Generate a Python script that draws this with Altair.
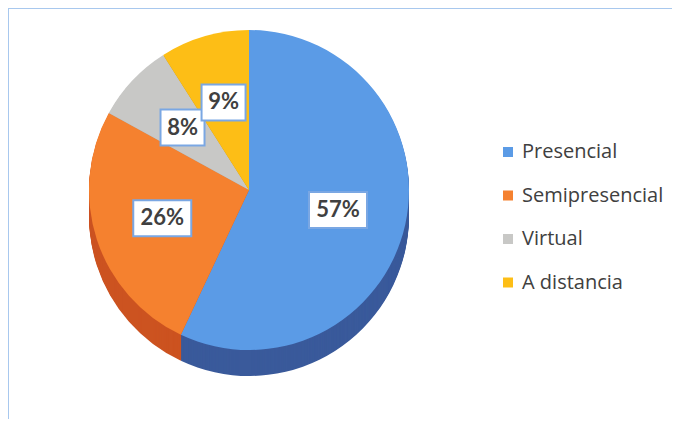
import altair as alt
import pandas as pd

categories = ["Presencial", "Semipresencial", "Virtual", "A distancia"]
values = [57, 26, 8, 9]
labels = ["57%", "26%", "8%", "9%"]
top_colors = ["#5B9BE6", "#F5812F", "#C8C8C6", "#FDBE16"]
side_colors = ["#3A5A9B", "#CC5320", "#9B9B9B", "#C99300"]

df = pd.DataFrame({
    "category": categories,
    "value": values,
    "label": labels,
    "ord": list(range(len(categories))),
    "side": side_colors,
})

W, H = 664, 411
CX, CY = 241, 182
R = 160
DEPTH = 26
LR = 0.57 * R

base = alt.Chart(df)
theta = alt.Theta("value:Q", stack=True)
order = alt.Order("ord:Q")

layers = []

frame = pd.DataFrame({"k": [0]})
layers.append(alt.Chart(frame).mark_rule(color="#A8C8EE", strokeWidth=2).encode(
    x=alt.value(0), y=alt.value(0), y2=alt.value(H)))
layers.append(alt.Chart(frame).mark_rule(color="#A8C8EE", strokeWidth=2).encode(
    x=alt.value(0), x2=alt.value(W), y=alt.value(0)))

for d in range(DEPTH, 0, -1):
    layers.append(base.mark_arc(radius=R).encode(
        theta=theta, order=order,
        fill=alt.Fill("side:N", scale=None, legend=None),
        x=alt.value(CX), y=alt.value(CY + d)))

layers.append(base.mark_arc(radius=R).encode(
    theta=theta, order=order,
    color=alt.Color("category:N",
                    scale=alt.Scale(domain=categories, range=top_colors),
                    sort=categories,
                    legend=alt.Legend(title=None, orient="none", legendX=490, legendY=134,
                                      symbolType="square", symbolSize=100, symbolStrokeWidth=0,
                                      labelFont="Open Sans", labelFontSize=20, labelColor="#404040",
                                      rowPadding=23.5, labelOffset=4)),
    x=alt.value(CX), y=alt.value(CY)))

lab = base.transform_window(
    cum="sum(value)", sort=[alt.SortField("ord")], frame=[None, 0]
).transform_joinaggregate(
    total="sum(value)"
).transform_calculate(
    mid="(datum.cum - datum.value/2) / datum.total * 2 * PI",
    lx=f"{CX} + {LR} * sin(datum.mid)",
    ly=f"{CY} - {LR} * cos(datum.mid)",
    w="16 + 14 * length(datum.label)",
    x1="datum.lx - datum.w/2",
    x2="datum.lx + datum.w/2",
    y1="datum.ly - 18",
    y2="datum.ly + 18",
)

layers.append(lab.mark_rect(fill="white", stroke="#7AA7E3", strokeWidth=2).encode(
    x=alt.X("x1:Q", scale=None, axis=None), x2="x2:Q",
    y=alt.Y("y1:Q", scale=None, axis=None), y2="y2:Q"))
layers.append(lab.mark_text(font="Lato", fontSize=22, fontWeight="bold", color="#404040").encode(
    x=alt.X("lx:Q", scale=None, axis=None),
    y=alt.Y("ly:Q", scale=None, axis=None),
    text="label:N"))

chart = alt.layer(*layers).properties(
    width=W, height=H, padding=0, autosize="none", background="white"
).configure_view(stroke=None)

chart.save("out.html", embed_options={"renderer": "svg", "actions": False})
